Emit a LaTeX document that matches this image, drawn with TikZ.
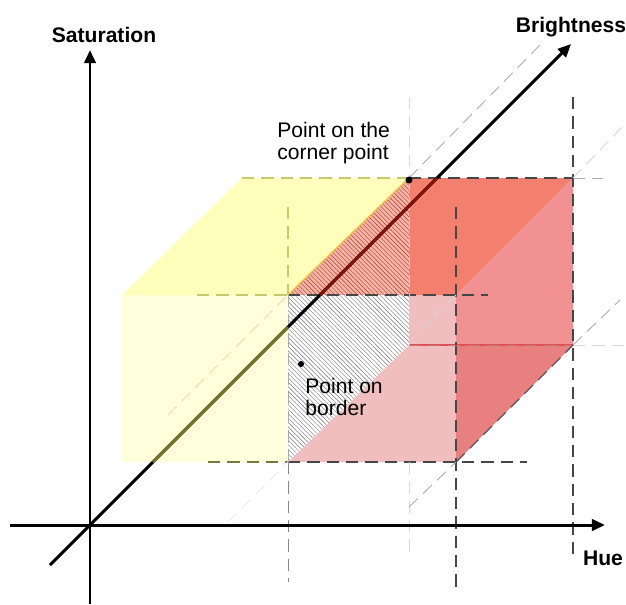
\documentclass[tikz,border=0pt]{standalone}
\usepackage{fontspec}
\setmainfont{Liberation Sans}
\definecolor{hsbYelTop}{RGB}{255,255,187}
\definecolor{hsbYelFront}{RGB}{255,255,220}
\definecolor{hsbRedFront}{RGB}{240,190,190}
\definecolor{hsbSalmon}{RGB}{243,128,110}
\definecolor{hsbSalmonLight}{RGB}{245,180,165}
\definecolor{hsbPinkSide}{RGB}{241,145,146}
\definecolor{hsbDarkSide}{RGB}{233,128,128}
\definecolor{hsbHatchRed}{RGB}{160,60,50}
\definecolor{hsbOliveAx}{RGB}{120,120,40}
\definecolor{hsbRedAx}{RGB}{130,20,10}
\definecolor{hsbDash}{RGB}{70,70,70}
\definecolor{hsbOliveDash}{RGB}{200,200,110}
\definecolor{hsbGuide}{RGB}{170,170,170}
\definecolor{hsbLight}{RGB}{215,215,215}
\definecolor{hsbFaint}{RGB}{235,235,235}
\definecolor{hsbOrange}{RGB}{240,190,70}
\definecolor{hsbRedLine}{RGB}{225,80,80}
\usetikzlibrary{arrows.meta,patterns.meta}

\begin{document}
\begin{tikzpicture}[x=0.2mm, y=-0.2mm,
    axis/.style={line width=1.7pt, draw=black},
    axistip/.style={-{Triangle[length=7.5pt,width=6.5pt]}},
    edge/.style={line width=0.6pt, dash pattern=on 7pt off 4pt, draw=hsbDash},
    guide/.style={line width=0.5pt, dash pattern=on 7pt off 4pt, draw=hsbGuide},
    hatch/.style={pattern={Lines[angle=-45,distance=1.8pt,line width=0.24pt]}},
    dot/.style={circle, fill=black, inner sep=0pt, minimum size=1.4mm},
    lbl/.style={inner sep=0pt, font=\fontsize{12}{14}\selectfont\bfseries},
    note/.style={inner sep=0pt, align=left, anchor=west, font=\fontsize{12}{13}\selectfont}
  ]
  \useasboundingbox (0,0) rectangle (626,604);

  \coordinate (fA) at (122,295);
  \coordinate (fB) at (288,295);
  \coordinate (fC) at (456,295);
  \coordinate (fD) at (122,462);
  \coordinate (fE) at (288,462);
  \coordinate (fF) at (456,462);
  \coordinate (bA) at (242,178);
  \coordinate (bB) at (409,178);
  \coordinate (bC) at (573,178);
  \coordinate (bE) at (409,345);
  \coordinate (bF) at (573,345);
  \coordinate (mid) at (409,295);
  \coordinate (q) at (456,345);

  \fill[hsbYelFront] (fA) -- (fB) -- (fE) -- (fD) -- cycle;
  \fill[hsbYelTop] (fA) -- (bA) -- (bB) -- (fB) -- cycle;
  \fill[hsbRedFront] (fE) -- (bE) -- (mid) -- (fC) -- (fF) -- cycle;
  \fill[white] (fB) -- (mid) -- (bE) -- (fE) -- cycle;
  \fill[hatch, pattern color=black!55] (fB) -- (mid) -- (bE) -- (fE) -- cycle;
  \fill[hsbSalmon] (bB) -- (bC) -- (fC) -- (mid) -- cycle;
  \fill[hsbSalmonLight] (fB) -- (bB) -- (mid) -- cycle;
  \fill[hatch, pattern color=hsbHatchRed] (fB) -- (bB) -- (mid) -- cycle;
  \fill[hsbPinkSide] (fC) -- (bC) -- (bF) -- (q) -- cycle;
  \fill[hsbDarkSide] (q) -- (bF) -- (fF) -- cycle;

  \draw[hsbRedLine, line width=0.6pt] (bE) -- (bF);
  \draw[hsbOrange, line width=0.8pt] (fB) -- (bB);

  \draw[edge, draw=hsbOliveDash] (bA) -- (bB);
  \draw[edge] (bB) -- (bC);
  \draw[guide] (bC) -- (603,178);
  \draw[edge, draw=hsbOliveDash] (197,295) -- (fB);
  \draw[edge] (fB) -- (488,295);
  \draw[edge, draw=hsbOliveDash!60!black] (208,462) -- (fE);
  \draw[edge] (fE) -- (527,462);
  \draw[edge, draw=hsbOliveDash] (288,207) -- (fB);
  \draw[guide] (fB) -- (fE);
  \draw[guide, draw=hsbGuide!80!black] (fE) -- (288,582);
  \draw[edge] (456,207) -- (456,589);
  \draw[edge] (573,97) -- (573,555);
  \draw[guide, draw=hsbLight] (409,97) -- (bB);
  \draw[guide, draw=hsbGuide!60] (bB) -- (409,462);
  \draw[guide, draw=hsbLight] (409,462) -- (409,557);
  \draw[guide, draw=hsbGuide!70!red] (bE) -- (bF);
  \draw[guide, draw=hsbLight] (bF) -- (626,345);
  \draw[guide, draw=hsbOliveDash!60!white] (168,415) -- (fB);
  \draw[guide] (bB) -- (540,45);
  \draw[edge] (fF) -- (bF);
  \draw[guide] (409,507) -- (fF);
  \draw[guide] (bF) -- (620,300);
  \draw[guide, draw=hsbLight] (420,330) -- (fC);
  \draw[guide, draw=hsbLight] (bC) -- (626,123);
  \draw[guide, draw=hsbFaint] (228,522) -- (fE);

  \coordinate (O) at (90,525);
  \coordinate (hueS) at (10,525);
  \coordinate (hueT) at (605,525);
  \coordinate (satS) at (90,604);
  \coordinate (satT) at (90,50);
  \coordinate (briS) at (50,565);
  \coordinate (briT) at (571,44);

  \draw[axis, axistip] (hueS) -- (hueT);
  \draw[axis, axistip] (satS) -- (satT);
  \draw[axis, axistip] (briS) -- (briT);
  \draw[axis, draw=hsbOliveAx] (153,462) -- (288,327);
  \draw[axis, draw=hsbRedAx] (320,295) -- (437,178);

  \node[dot] (cornerPt) at (409,180) {};
  \node[dot, minimum size=1.2mm] (borderPt) at (301,364) {};

  \node[lbl] (sat) at (104,35) {Saturation};
  \node[lbl] (bri) at (571,27) {Brightness};
  \node[lbl] (hue) at (603,558) {Hue};
  \node[note] (cornerTxt) at (277,143) {Point on the\\corner point};
  \node[note] (borderTxt) at (305,397) {Point on\\border};
\end{tikzpicture}
\end{document}
